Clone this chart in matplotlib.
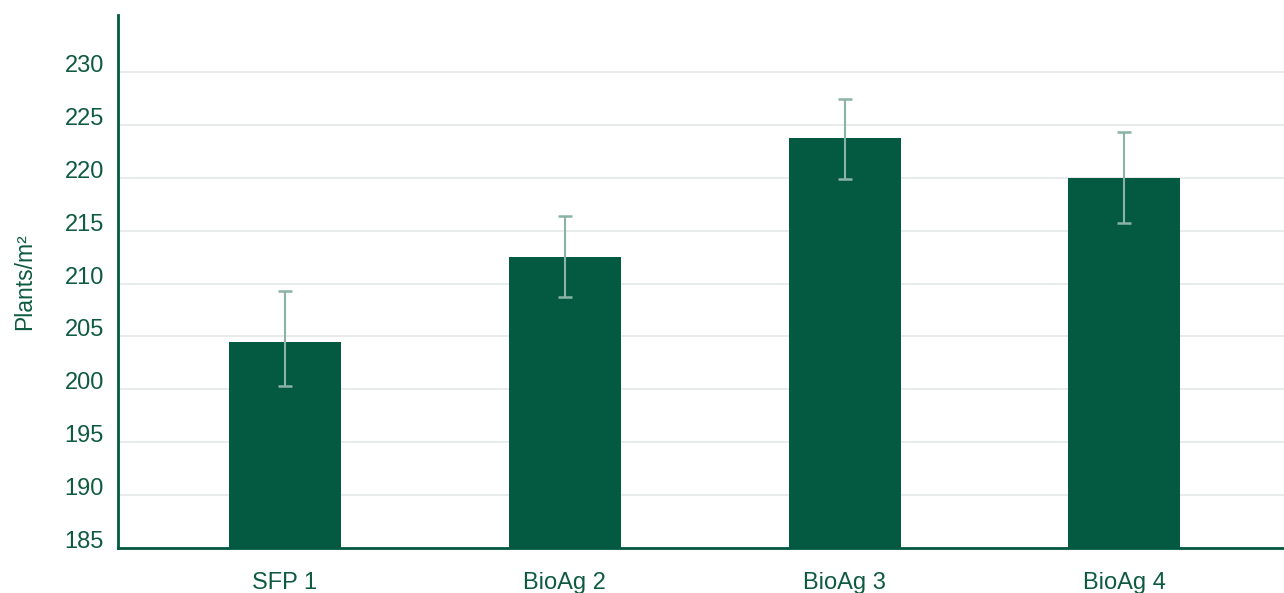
import matplotlib
matplotlib.use("Agg")
import matplotlib.pyplot as plt

categories = ["SFP 1", "BioAg 2", "BioAg 3", "BioAg 4"]
values = [204.5, 212.5, 223.8, 220.0]
err_low = [4.2, 3.8, 3.9, 4.3]
err_high = [4.8, 3.9, 3.7, 4.3]
yticks = [185, 190, 195, 200, 205, 210, 215, 220, 225, 230]

green = "#035A41"
text_green = "#0F5B40"
err_color = "#8AB2A5"
grid_color = "#E3E8E6"

plt.rcParams['font.family'] = ['Liberation Sans', 'DejaVu Sans']

fig = plt.figure(figsize=(12.84, 5.93), dpi=100)
ax = fig.add_axes([0.0919, 0.0759, 0.9081, 0.8988])

x = list(range(len(categories)))
ax.bar(x, [v - 185 for v in values], bottom=185, width=0.4, color=green, zorder=2)
ax.errorbar(x, values, yerr=[err_low, err_high], fmt='none', ecolor=err_color,
            elinewidth=1.5, capsize=5, capthick=1.8, zorder=3)

ax.set_ylim(185, 235.4)
ax.set_xlim(-0.596, 3.57)
ax.set_yticks(yticks)
ax.set_xticks(x)
ax.set_xticklabels(categories)
ax.tick_params(axis='both', length=0, labelsize=17, colors=text_green)
ax.tick_params(axis='y', pad=10)
ax.tick_params(axis='x', pad=17)
for lbl in ax.get_yticklabels():
    lbl.set_va('baseline')
ax.yaxis.grid(True, color=grid_color, linewidth=1.2, zorder=0)
ax.set_axisbelow(True)
for s in ['top', 'right']:
    ax.spines[s].set_visible(False)
for s in ['left', 'bottom']:
    ax.spines[s].set_color(green)
    ax.spines[s].set_linewidth(2)
ax.set_ylabel("Plants/m²", fontsize=16.5, color=text_green)
ax.yaxis.set_label_coords(-0.0704, 0.5)

fig.savefig("out.png", dpi=100)
